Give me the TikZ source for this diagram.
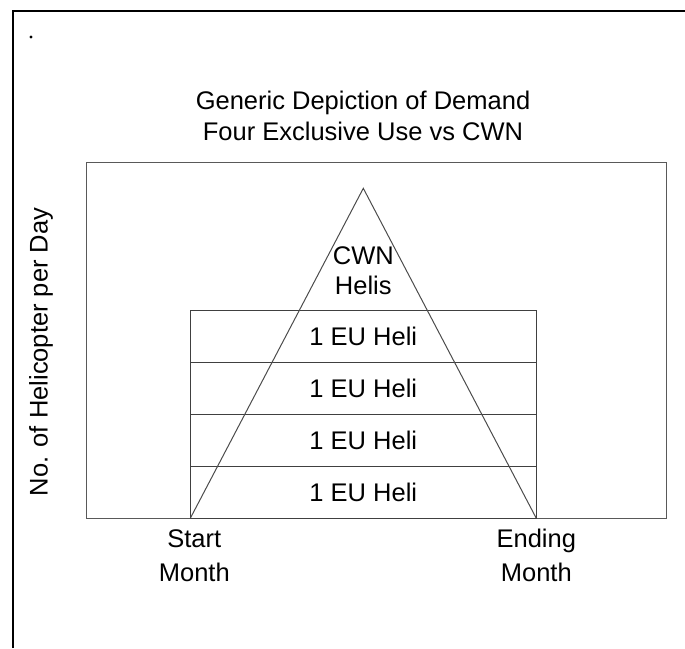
\documentclass[tikz,border=0pt]{standalone}
\usepackage{fontspec}
\setmainfont{Liberation Sans}
\begin{document}
\begin{tikzpicture}[x=1pt,y=-1pt,
  lbl/.style={font=\fontsize{25.5}{31}\selectfont, align=center, inner sep=0pt},
  eubox/.style={draw=black!75, line width=1pt, minimum width=346pt, minimum height=52pt, inner sep=0pt, font=\fontsize{25.5}{31}\selectfont},
  frame/.style={line width=2pt, black},
  chart/.style={draw=black!65, line width=1.5pt}]
\useasboundingbox (0,0) rectangle (685,648);
% outer frame (top and left only visible)
\draw[frame] (12.5,648) -- (12.5,10.5) -- (685,10.5);
\fill (31,37) circle (1.6pt);
% title
\node[lbl] (title) at (363,116) {Generic Depiction of Demand\\Four Exclusive Use vs CWN};
% chart box
\draw[chart] (86.7,162.7) rectangle (666.7,518.3);
% stacked boxes
\node[eubox] (eu4) at (363.3,492.3) {1 EU Heli};
\node[eubox] (eu3) at (363.3,440.3) {1 EU Heli};
\node[eubox] (eu2) at (363.3,388.3) {1 EU Heli};
\node[eubox] (eu1) at (363.3,336.3) {1 EU Heli};
% triangle
\coordinate (apex) at (363.3,188.3);
\coordinate (bl) at (190.3,518.3);
\coordinate (br) at (536.3,518.3);
\draw[black!70, line width=1pt] (bl) -- (apex) -- (br);
\node[lbl, font=\fontsize{25.5}{30}\selectfont] (cwn) at (363.3,271) {CWN\\Helis};
% axis labels
\node[lbl, rotate=90] (ylab) at (41,352) {No. of Helicopter per Day};
\node[lbl, font=\fontsize{25.5}{34}\selectfont, anchor=north] (start) at ([xshift=4pt,yshift=-11pt]bl) {Start\\Month};
\node[lbl, font=\fontsize{25.5}{34}\selectfont, anchor=north] (end) at ([yshift=-11pt]br) {Ending\\Month};
\end{tikzpicture}
\end{document}
